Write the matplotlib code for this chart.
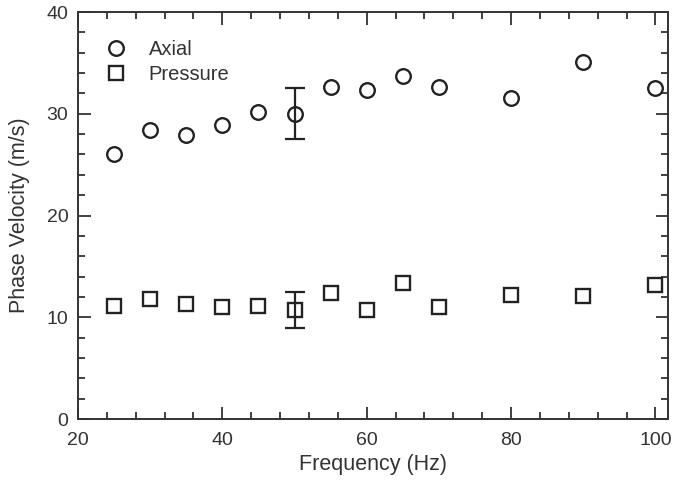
import matplotlib.pyplot as plt
from matplotlib.ticker import MultipleLocator

plt.rcParams['font.family'] = ['Liberation Sans', 'DejaVu Sans']

freq = [25, 30, 35, 40, 45, 50, 55, 60, 65, 70, 80, 90, 100]
axial = [26.0, 28.4, 27.9, 28.9, 30.2, 30.0, 32.6, 32.3, 33.7, 32.6, 31.6, 35.1, 32.5]
pressure = [11.1, 11.8, 11.3, 11.0, 11.1, 10.7, 12.35, 10.7, 13.4, 11.0, 12.2, 12.1, 13.2]

# error bars only shown at 50 Hz
err_freq = [50]
axial_err = [2.5]
pressure_err = [1.8]

ink = '#222222'
fig = plt.figure(figsize=(6.74, 4.82), dpi=100)
ax = fig.add_axes([0.1157, 0.1307, 0.875, 0.8443])

ax.plot(freq, axial, 'o', ms=10.5, mfc='none', mec=ink, mew=1.7, label='Axial')
ax.plot(freq, pressure, 's', ms=9.5, mfc='none', mec=ink, mew=1.7, label='Pressure')

ax.errorbar(err_freq, [axial[freq.index(f)] for f in err_freq], yerr=axial_err,
            fmt='none', ecolor=ink, elinewidth=1.6, capsize=7, capthick=1.6)
ax.errorbar(err_freq, [pressure[freq.index(f)] for f in err_freq], yerr=pressure_err,
            fmt='none', ecolor=ink, elinewidth=1.6, capsize=7, capthick=1.6)

ax.set_xlim(20, 101.7)
ax.set_ylim(0, 40)
ax.xaxis.set_major_locator(MultipleLocator(20))
ax.xaxis.set_minor_locator(MultipleLocator(4))
ax.yaxis.set_major_locator(MultipleLocator(10))
ax.yaxis.set_minor_locator(MultipleLocator(2))
ax.tick_params(which='both', direction='in', top=True, right=True, width=1.3, color='#333333',
               labelsize=14, labelcolor='#333333')
ax.tick_params(which='major', length=9)
ax.tick_params(which='minor', length=5)
ax.tick_params(axis='x', pad=9)
ax.tick_params(axis='y', pad=7)
for s in ax.spines.values():
    s.set_linewidth(1.4)
    s.set_color('#333333')

ax.set_xlabel('Frequency (Hz)', fontsize=15.5, color='#333333', labelpad=4)
ax.set_ylabel('Phase Velocity (m/s)', fontsize=15.5, color='#333333', labelpad=12)

ax.legend(loc='upper left', bbox_to_anchor=(0.0, 0.975), frameon=False, fontsize=14.5,
          handletextpad=0.6, labelspacing=0.3, labelcolor='#333333')

fig.savefig('out.png', dpi=100)
